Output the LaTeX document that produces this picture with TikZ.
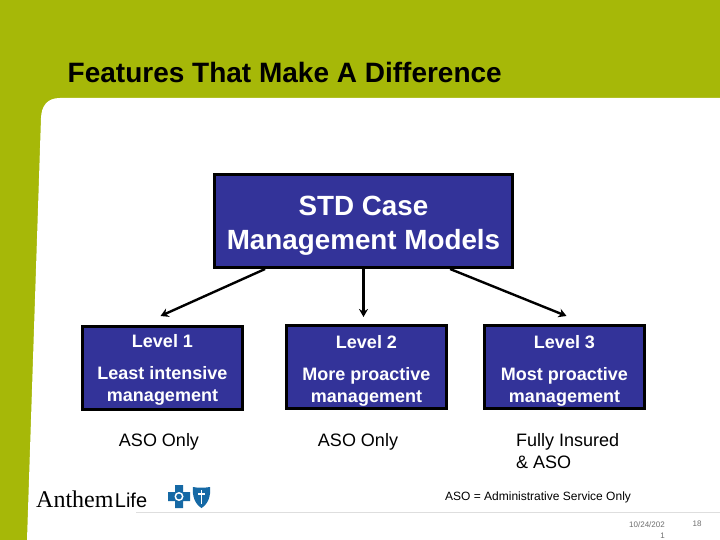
\documentclass[tikz,border=0pt]{standalone}
\usepackage{fontspec}
\setmainfont{Liberation Sans}
\newfontfamily\logoserif{Liberation Serif}
\usetikzlibrary{arrows.meta, positioning}
\definecolor{leaf}{RGB}{166,184,8}
\definecolor{navy}{RGB}{51,51,153}
\definecolor{logoblue}{RGB}{22,105,165}
\definecolor{rulegray}{RGB}{222,222,222}
\definecolor{footgray}{RGB}{110,110,110}
\tikzset{
  bluebox/.style={draw=black, line width=3pt, fill=navy, text=white, align=center, inner sep=0pt},
  levelbox/.style={bluebox, minimum width=160.5pt, minimum height=83pt, font=\fontsize{18}{22}\selectfont\bfseries},
  note/.style={font=\fontsize{18}{22}\selectfont, align=left, inner sep=0pt},
  link/.style={->, line width=2.4pt},
}
\newcommand{\lvlstrut}[1][17pt]{\rule{0pt}{#1}}
\begin{document}
\begin{tikzpicture}[x=1pt, y=-1pt, >={Stealth[length=8pt, width=9pt]}]
        \useasboundingbox (0,0) rectangle (720,540);
        \fill[leaf] (0,0) rectangle (720,540);
        \fill[white] (27,540) -- (41,118) .. controls (41.5,106) and (47,98) .. (60,98) -- (720,98) -- (720,540) -- cycle;
        \draw[rulegray, line width=1pt] (136,512) -- (720,512);
        \node (title) [anchor=west, inner sep=0pt, font=\fontsize{28}{30}\selectfont\bfseries] at (67.5,72) {Features That Make A Difference};
        \node (main) [bluebox, minimum width=298pt, minimum height=93pt, font=\fontsize{27.8}{34}\selectfont\bfseries] at (363.5,221) {\rule{0pt}{28pt}STD Case\\Management Models};
        \node (lvl1) [levelbox] at (162.5,368) {\lvlstrut Level 1\\[10pt]Least intensive\\management};
        \node (lvl2) [levelbox] at (366.5,367) {\lvlstrut[20pt]Level 2\\[10pt]More proactive\\management};
        \node (lvl3) [levelbox] at (564.5,367) {\lvlstrut[20pt]Level 3\\[10pt]Most proactive\\management};
        \coordinate (tip1) at ([shift={(-2,-9)}]lvl1.north);
        \coordinate (tip2) at ([shift={(-3,-7)}]lvl2.north);
        \coordinate (tip3) at ([shift={(2,-8)}]lvl3.north);
        \draw[link] (main.-154) -- (tip1);
        \draw[link] (main.south) -- (tip2);
        \draw[link] (main.-29) -- (tip3);
        \node (aso1) [note] at (159,442) {ASO Only};
        \node (aso2) [note] at (358,442) {ASO Only};
        \node (aso3) [note, anchor=north west] at (516,433) {Fully Insured\\\& ASO};
        \node (legend) [anchor=west, inner sep=0pt, font=\fontsize{12}{14}\selectfont] at (445,497) {ASO = Administrative Service Only};
        \node (date) [anchor=north east, inner sep=0pt, align=right, text=footgray, font=\fontsize{8}{11}\selectfont] at (665,521) {10/24/202\\1};
        \node (page) [anchor=north, inner sep=0pt, text=footgray, font=\fontsize{8}{11}\selectfont] at (697,521) {18};
        % logo
        \node (anthem) [anchor=base west, inner sep=0pt, font=\logoserif\fontsize{24}{30}\selectfont] at (36,507) {Anthem};
        \node (life) [anchor=base west, inner sep=0pt, font=\fontsize{20}{28}\selectfont] at ([xshift=1pt]anthem.base east) {Life};
        \fill[logoblue] (175,485) rectangle (183,508) (168,492) rectangle (190,501);
        \fill[white] (179,496.5) circle (4.5);
        \fill[logoblue] (179,496.5) circle (2.8);
        \fill[logoblue] (193,487) .. controls (198,488) and (204,488) .. (210,487) .. controls (211,496) and (208,504) .. (201.5,508) .. controls (195,504) and (192,496) .. (193,487) -- cycle;
        \draw[white, line width=1.2pt] (201.5,490) -- (201.5,504) (198,494) -- (205,494);
      \end{tikzpicture}
\end{document}
